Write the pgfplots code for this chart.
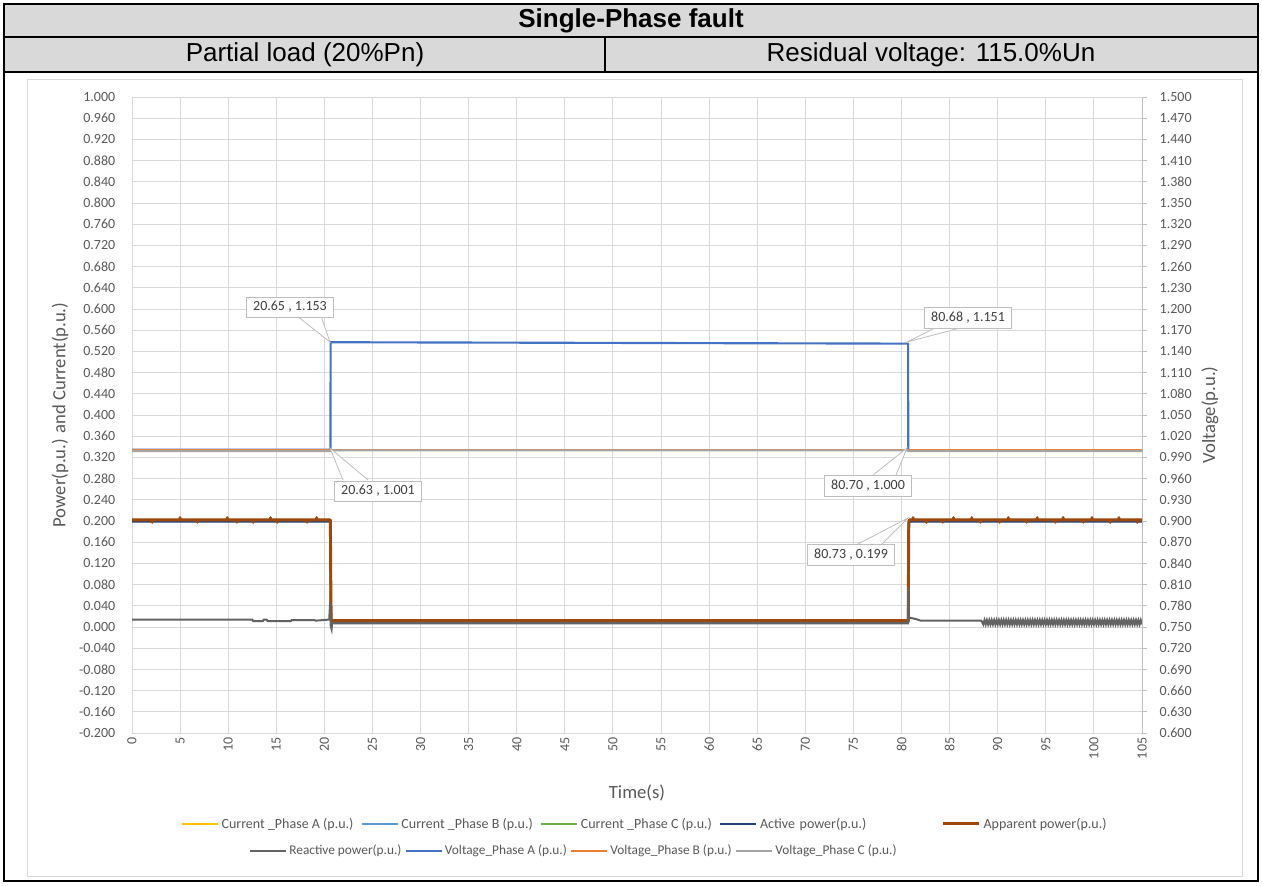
\documentclass[border=0pt]{standalone}
\usepackage{pgfplots}
\pgfplotsset{compat=1.18}
\usepackage{fontspec}
\setmainfont{Carlito}
\newfontfamily\arialfont{Liberation Sans}
\definecolor{curA}{HTML}{FFC000}
\definecolor{curB}{HTML}{5B9BD5}
\definecolor{curC}{HTML}{70AD47}
\definecolor{actP}{HTML}{264478}
\definecolor{appP}{HTML}{9E480E}
\definecolor{reaP}{HTML}{636363}
\definecolor{volA}{HTML}{4472C4}
\definecolor{volB}{HTML}{ED7D31}
\definecolor{volC}{HTML}{A5A5A5}
\definecolor{gridc}{HTML}{D9D9D9}
\definecolor{axc}{HTML}{BFBFBF}
\definecolor{txtc}{HTML}{595959}
\definecolor{lblc}{HTML}{404040}
\definecolor{hdr}{HTML}{D9D9D9}
\pgfplotsset{
  base/.style={
    at={(99pt,-549.75pt)}, anchor=south west,
    scale only axis, width=757.5pt, height=477pt,
    xmin=0, xmax=105,
    /pgf/number format/assume math mode=true,
    tick label style={font=\fontsize{10.5}{12}\selectfont, text=txtc},
    label style={font=\fontsize{14}{16}\selectfont, text=txtc},
    legend image code/.code={\draw[#1] (0pt,0pt) -- (27pt,0pt);},
    legend style={draw=none, fill=none, font=\fontsize{10.5}{12}\selectfont, text=txtc,
      nodes={inner xsep=2pt, inner ysep=2pt}, /tikz/every even column/.append style={column sep=3.5pt}},
    legend cell align=left,
  }
}
\begin{document}
\begin{tikzpicture}
\begin{scope}[x=0.75pt,y=-0.75pt]
\useasboundingbox (0,0) rectangle (1262,885);
\fill[hdr] (4,4) rectangle (1258,72);
\draw[gridc, line width=0.6pt] (27,79) rectangle (1242,876);
\node[font=\arialfont\bfseries\fontsize{19.5}{22}\selectfont] at (631,21) {Single-Phase fault};
\node[font=\arialfont\fontsize{19.5}{22}\selectfont] at (305,55) {Partial load (20\%Pn)};
\node[font=\arialfont\fontsize{19.5}{22}\selectfont] at (931,55) {Residual voltage: 115.0\%Un};
\end{scope}

% ---------- left axis: power and current ----------
\begin{axis}[base,
  ymin=-0.2, ymax=1.0,
  xtick distance=5, ytick distance=0.04,
  grid=major, major grid style={gridc, line width=0.75pt},
  axis line style={draw=none}, major tick length=0pt,
  xticklabel style={rotate=90, anchor=east},
  yticklabel style={anchor=east, xshift=-9pt, /pgf/number format/.cd, fixed, fixed zerofill, precision=3},
  xlabel={Time(s)}, xlabel style={at={(axis description cs:0.5,-0.094)}, anchor=center},
  ylabel={Power(p.u.) and Current(p.u.)}, ylabel style={at={(axis description cs:-0.0713,0.5)}, anchor=center},
  legend columns=5,
  legend style={at={(axis description cs:0.508,-0.143)}, anchor=center},
]
\addplot[curA, line width=1.5pt] coordinates {(0,0.201)(20.62,0.201)(20.66,0.040)(20.72,0.011)(80.70,0.011)(80.73,0.199)(80.80,0.201)(105,0.201)};
\addlegendentry{Current \_Phase A (p.u.)}
\addplot[curB, line width=1.5pt] coordinates {(0,0.200)(20.62,0.200)(20.66,0.040)(20.72,0.010)(80.70,0.010)(80.73,0.198)(80.80,0.200)(105,0.200)};
\addlegendentry{Current \_Phase B (p.u.)}
\addplot[curC, line width=1.5pt] coordinates {(0,0.202)(20.62,0.202)(20.66,0.040)(20.72,0.011)(80.70,0.011)(80.73,0.199)(80.80,0.202)(105,0.202)};
\addlegendentry{Current \_Phase C (p.u.)}
\addplot[actP, line width=1.5pt] coordinates {(0,0.199)(20.62,0.199)(20.68,0.030)(20.72,0.010)(80.70,0.010)(80.74,0.180)(80.80,0.199)(105,0.199)};
\addlegendentry[text width=131pt]{Active power(p.u.)}
\addplot[appP, line width=2.2pt, line join=round] coordinates {
(0,0.202)(2.1,0.202)(2.1,0.1975)(2.1,0.202)(5.0,0.202)(5.0,0.2065)(5.0,0.202)
(6.8,0.202)(6.8,0.1975)(6.8,0.202)(9.9,0.202)(9.9,0.2065)(9.9,0.202)
(10.9,0.202)(10.9,0.1975)(10.9,0.202)(12.6,0.202)(12.6,0.1975)(12.6,0.202)
(14.4,0.202)(14.4,0.2065)(14.4,0.202)(15.1,0.202)(15.1,0.1975)(15.1,0.202)
(18.2,0.202)(18.2,0.1975)(18.2,0.202)(19.2,0.202)(19.2,0.2065)(19.2,0.202)
(20.62,0.202)(20.68,0.050)(20.72,0.012)(80.70,0.012)(80.74,0.180)(80.78,0.202)
(81.2,0.202)(81.2,0.2065)(81.2,0.202)(82.6,0.202)(82.6,0.1975)(82.6,0.202)
(84.3,0.202)(84.3,0.1975)(84.3,0.202)(85.4,0.202)(85.4,0.2065)(85.4,0.202)
(87.3,0.202)(87.3,0.2065)(87.3,0.202)(88.2,0.202)(88.2,0.1975)(88.2,0.202)
(90.2,0.202)(90.2,0.1975)(90.2,0.202)(91.1,0.202)(91.1,0.2065)(91.1,0.202)
(93.0,0.202)(93.0,0.1975)(93.0,0.202)(94.1,0.202)(94.1,0.2065)(94.1,0.202)
(96.0,0.202)(96.0,0.1975)(96.0,0.202)(96.8,0.202)(96.8,0.2065)(96.8,0.202)
(98.9,0.202)(98.9,0.1975)(98.9,0.202)(99.8,0.202)(99.8,0.2065)(99.8,0.202)
(101.7,0.202)(101.7,0.1975)(101.7,0.202)(102.6,0.202)(102.6,0.2065)(102.6,0.202)
(104.5,0.202)(104.5,0.1975)(104.5,0.202)(105,0.202)};
\addlegendentry{Apparent power(p.u.)}
\addplot[reaP, line width=1.5pt, forget plot] coordinates {
(0,0.014)(12.5,0.014)(12.6,0.011)(13.6,0.011)(13.7,0.014)(14.0,0.014)(14.1,0.011)(16.5,0.011)
(16.6,0.013)(19.0,0.013)(19.1,0.012)(20.5,0.014)(20.6,0.047)(20.65,0.003)(20.75,-0.004)(20.8,0.007)
(80.65,0.007)(80.7,0.075)(80.75,0.018)(81.5,0.015)(82.0,0.012)(88.3,0.012)
(88.5,0.005)(88.625,0.013)(88.75,0.005)(88.875,0.013)
(89,0.005)(89.125,0.013)(89.25,0.005)(89.375,0.013)(89.5,0.005)(89.625,0.013)(89.75,0.005)(89.875,0.013)
(90,0.005)(90.125,0.013)(90.25,0.005)(90.375,0.013)(90.5,0.005)(90.625,0.013)(90.75,0.005)(90.875,0.013)
(91,0.005)(91.125,0.013)(91.25,0.005)(91.375,0.013)(91.5,0.005)(91.625,0.013)(91.75,0.005)(91.875,0.013)
(92,0.005)(92.125,0.013)(92.25,0.005)(92.375,0.013)(92.5,0.005)(92.625,0.013)(92.75,0.005)(92.875,0.013)
(93,0.005)(93.125,0.013)(93.25,0.005)(93.375,0.013)(93.5,0.005)(93.625,0.013)(93.75,0.005)(93.875,0.013)
(94,0.005)(94.125,0.013)(94.25,0.005)(94.375,0.013)(94.5,0.005)(94.625,0.013)(94.75,0.005)(94.875,0.013)
(95,0.005)(95.125,0.013)(95.25,0.005)(95.375,0.013)(95.5,0.005)(95.625,0.013)(95.75,0.005)(95.875,0.013)
(96,0.005)(96.125,0.013)(96.25,0.005)(96.375,0.013)(96.5,0.005)(96.625,0.013)(96.75,0.005)(96.875,0.013)
(97,0.005)(97.125,0.013)(97.25,0.005)(97.375,0.013)(97.5,0.005)(97.625,0.013)(97.75,0.005)(97.875,0.013)
(98,0.005)(98.125,0.013)(98.25,0.005)(98.375,0.013)(98.5,0.005)(98.625,0.013)(98.75,0.005)(98.875,0.013)
(99,0.005)(99.125,0.013)(99.25,0.005)(99.375,0.013)(99.5,0.005)(99.625,0.013)(99.75,0.005)(99.875,0.013)
(100,0.005)(100.125,0.013)(100.25,0.005)(100.375,0.013)(100.5,0.005)(100.625,0.013)(100.75,0.005)(100.875,0.013)
(101,0.005)(101.125,0.013)(101.25,0.005)(101.375,0.013)(101.5,0.005)(101.625,0.013)(101.75,0.005)(101.875,0.013)
(102,0.005)(102.125,0.013)(102.25,0.005)(102.375,0.013)(102.5,0.005)(102.625,0.013)(102.75,0.005)(102.875,0.013)
(103,0.005)(103.125,0.013)(103.25,0.005)(103.375,0.013)(103.5,0.005)(103.625,0.013)(103.75,0.005)(103.875,0.013)
(104,0.005)(104.125,0.013)(104.25,0.005)(104.375,0.013)(104.5,0.005)(104.625,0.013)(104.75,0.005)(104.875,0.013)
(105,0.005)};
\end{axis}

% ---------- right axis: voltage ----------
\begin{axis}[base,
  ymin=0.6, ymax=1.5,
  axis x line=none, axis y line*=right,
  y axis line style={axc, line width=0.75pt, -},
  ytick distance=0.03,
  tick align=outside, major tick length=3.75pt,
  ytick style={axc, line width=0.75pt},
  yticklabel style={anchor=west, xshift=6pt, /pgf/number format/.cd, fixed, fixed zerofill, precision=3},
  ylabel={Voltage(p.u.)}, ylabel style={at={(axis description cs:1.0673,0.5)}, anchor=center, rotate=0},
  legend columns=4,
  legend style={at={(axis description cs:0.4376,-0.1855)}, anchor=center, font=\fontsize{10}{12}\selectfont,
    nodes={inner xsep=1.5pt}, /tikz/every even column/.append style={column sep=1pt}},
]
\addlegendimage{reaP, line width=1.5pt}
\addlegendentry{Reactive power(p.u.)}
\addplot[volA, line width=1.6pt] coordinates {(0,1.001)(20.63,1.001)(20.65,1.153)(80.68,1.151)(80.70,1.000)(105,1.000)};
\addlegendentry{Voltage\_Phase A (p.u.)}
\addplot[volB, line width=1.6pt] coordinates {(0,1.000)(20.63,1.000)(20.65,1.000)(80.70,1.000)(105,1.000)};
\addlegendentry{Voltage\_Phase B (p.u.)}
\addplot[volC, line width=1.6pt] coordinates {(0,0.999)(20.63,0.999)(20.65,1.000)(80.70,1.000)(80.72,0.999)(105,0.999)};
\addlegendentry{Voltage\_Phase C (p.u.)}
\end{axis}

% ---------- header borders and data labels ----------
\begin{scope}[x=0.75pt,y=-0.75pt]
\draw[line width=1.2pt] (4,37) -- (1258,37);
\draw[line width=1.2pt] (4,72) -- (1258,72);
\draw[line width=1.2pt] (605,37) -- (605,72);
\draw[line width=1.6pt] (4,4) rectangle (1258,881);
\tikzset{dl/.style={draw=axc, fill=white, line width=0.6pt, text=lblc, font=\fontsize{10.5}{12}\selectfont, inner xsep=5pt, minimum height=15pt}}
\filldraw[fill=white, draw=axc, line width=0.6pt] (297,316) -- (330,342) -- (321,316);
\node[dl] at (290,307) {20.65 , 1.153};
\filldraw[fill=white, draw=axc, line width=0.6pt] (343,480) -- (330,448) -- (368,480);
\node[dl] at (378,491) {20.63 , 1.001};
\filldraw[fill=white, draw=axc, line width=0.6pt] (935,328) -- (907,342) -- (960,328);
\node[dl] at (968,318) {80.68 , 1.151};
\filldraw[fill=white, draw=axc, line width=0.6pt] (873,475) -- (907,448) -- (896,475);
\node[dl] at (868,486) {80.70 , 1.000};
\filldraw[fill=white, draw=axc, line width=0.6pt] (858,544) -- (908,518) -- (882,544);
\node[dl] at (851,555) {80.73 , 0.199};
\end{scope}
\end{tikzpicture}
\end{document}
